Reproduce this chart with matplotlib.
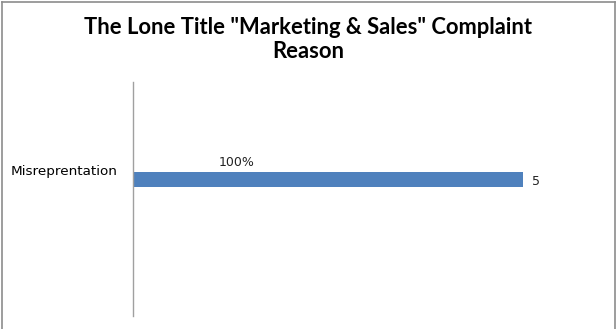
import matplotlib
matplotlib.use("Agg")
import matplotlib.pyplot as plt
from matplotlib.lines import Line2D
from matplotlib.transforms import ScaledTranslation

categories = ["Misreprentation"]
counts = [5]
share_label = "100%"
share_label_x = 1.33

W, H, DPI = 616, 329, 100
fig = plt.figure(figsize=(W / DPI, H / DPI), dpi=DPI)
fig.patch.set_facecolor("white")

# axes placed in pixel terms
left, right, top, bottom = 133, 523, 82, 316
ax = fig.add_axes([left / W, 1 - bottom / H, (right - left) / W, (bottom - top) / H])

bar_h = 0.5
ax.barh(range(len(categories)), counts, height=bar_h, color="#4f81bd", zorder=2)
ax.set_xlim(0, 5)
ax.set_ylim(-4.52, 3.25)

for i, v in enumerate(counts):
    ax.text(v + 0.12, i - 0.05, str(v), va="center", ha="left", fontsize=9, color="#222222")
ax.text(share_label_x, 0.35, share_label, ha="center", va="bottom", fontsize=9, color="#222222")

ax.set_yticks(range(len(categories)))
ax.set_yticklabels(categories, fontsize=9.7)
ax.tick_params(axis="y", length=0, pad=11)
shift = ScaledTranslation(0, 10 / DPI, fig.dpi_scale_trans)
for lbl in ax.get_yticklabels():
    lbl.set_transform(lbl.get_transform() + shift)
ax.set_xticks([])
for s in ["top", "right", "bottom"]:
    ax.spines[s].set_visible(False)
ax.spines["left"].set_color("#a0a0a0")
ax.spines["left"].set_linewidth(1.0)
ax.patch.set_alpha(0)

title_font = dict(ha="center", va="center", fontsize=15.8, fontweight="bold", family=["Lato", "DejaVu Sans"])
fig.text(0.5, 1 - 27 / H, 'The Lone Title "Marketing & Sales" Complaint', **title_font)
fig.text(0.5, 1 - 52 / H, "Reason", **title_font)

# chart area border (left, top, right)
c = "#8c8c8c"
fig.add_artist(Line2D([1.5 / W, 1.5 / W], [0, 1 - 2 / H], color=c, lw=1.2, transform=fig.transFigure))
fig.add_artist(Line2D([1.5 / W, 614.5 / W], [1 - 2 / H, 1 - 2 / H], color=c, lw=1.2, transform=fig.transFigure))
fig.add_artist(Line2D([614.5 / W, 614.5 / W], [0, 1 - 2 / H], color=c, lw=1.2, transform=fig.transFigure))

fig.savefig("out.png", dpi=DPI)
